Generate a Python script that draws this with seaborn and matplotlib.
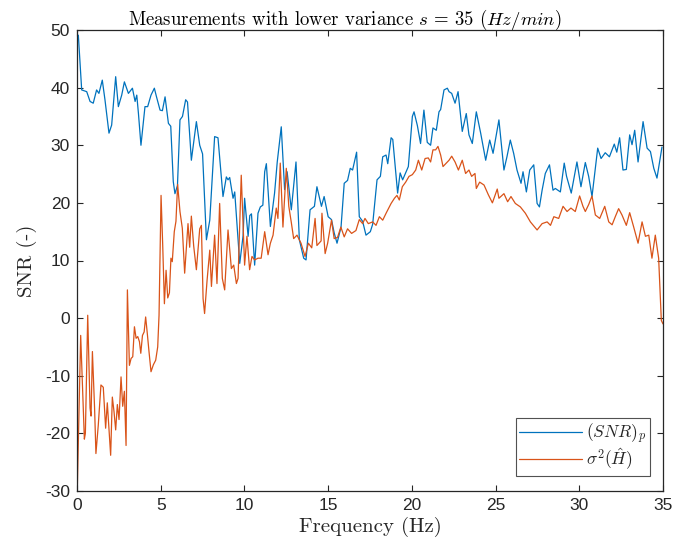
import numpy as np
import pandas as pd
import matplotlib
matplotlib.use("Agg")
import matplotlib.pyplot as plt
import seaborn as sns

# ---- data ----
snr_freq = [0.0, 0.08, 0.28, 0.58, 0.78, 0.97, 1.17, 1.31, 1.51, 1.67, 1.91, 2.07, 2.31, 2.47,
            2.67, 2.83, 3.07, 3.31, 3.47, 3.57, 3.67, 3.82, 4.06, 4.22, 4.42, 4.62, 4.74, 4.96,
            5.1, 5.26, 5.46, 5.6, 5.75, 5.85, 6.0, 6.15, 6.3, 6.49, 6.6, 6.83, 7.13, 7.33, 7.5,
            7.73, 7.93, 8.22, 8.42, 8.72, 8.92, 9.02, 9.12, 9.32, 9.42, 9.72, 9.92, 10.01, 10.22,
            10.32, 10.42, 10.61, 10.81, 10.95, 11.1, 11.21, 11.31, 11.55, 11.8, 11.96, 12.2, 12.4,
            12.55, 12.8, 13.08, 13.28, 13.54, 13.68, 13.92, 14.18, 14.33, 14.6, 14.76, 15.0, 15.2,
            15.36, 15.53, 15.77, 15.96, 16.16, 16.32, 16.46, 16.7, 16.86, 17.06, 17.26, 17.52,
            17.66, 17.92, 18.12, 18.26, 18.46, 18.56, 18.76, 18.86, 19.15, 19.3, 19.45, 19.79,
            20.03, 20.13, 20.33, 20.52, 20.72, 20.92, 21.12, 21.26, 21.46, 21.62, 21.72, 21.92,
            22.12, 22.22, 22.38, 22.58, 22.76, 23.01, 23.25, 23.41, 23.61, 23.85, 24.11, 24.41,
            24.65, 24.85, 25.2, 25.5, 25.68, 25.88, 26.08, 26.28, 26.52, 26.64, 26.84, 27.04,
            27.28, 27.48, 27.62, 27.78, 27.97, 28.22, 28.43, 28.57, 28.87, 29.1, 29.24, 29.52,
            29.86, 30.1, 30.36, 30.56, 30.76, 31.1, 31.3, 31.55, 31.8, 32.09, 32.24, 32.41, 32.61,
            32.81, 33.01, 33.15, 33.31, 33.51, 33.81, 34.05, 34.25, 34.45, 34.64, 34.94]
snr_vals = [49.0, 49.1, 39.6, 39.3, 37.6, 37.3, 39.6, 39.0, 41.3, 37.9, 32.1, 33.5, 41.9, 36.7,
            38.7, 41.0, 39.0, 39.9, 37.6, 38.7, 35.5, 30.0, 36.7, 36.7, 38.7, 39.9, 38.5, 36.1,
            36.0, 38.4, 33.8, 33.3, 23.7, 21.6, 23.0, 34.4, 35.0, 37.9, 37.5, 27.4, 34.1, 30.0, 28.5,
            13.6, 17.0, 31.5, 31.3, 21.1, 24.5, 24.0, 24.4, 20.8, 21.9, 9.5, 14.3, 20.8, 14.2,
            17.8, 18.1, 9.2, 18.2, 19.3, 19.6, 25.4, 26.8, 15.9, 21.7, 27.1, 33.2, 22.3,
            25.4, 18.8, 27.1, 13.6, 10.4, 10.1, 18.8, 19.4, 22.8, 19.4, 21.1, 17.6, 17.1,
            14.8, 13.0, 15.8, 23.4, 23.9, 26.0, 25.7, 28.8, 17.6, 16.8, 14.4, 15.0,
            16.3, 24.0, 24.6, 28.0, 28.3, 26.8, 31.3, 31.0, 21.7, 25.2, 24.0, 26.3,
            35.0, 35.8, 33.4, 30.3, 36.1, 30.5, 30.0, 33.0, 32.6, 35.8, 36.2, 39.6,
            39.9, 39.3, 39.0, 37.3, 39.3, 32.4, 35.5, 31.8, 30.3, 35.8, 32.1, 27.4,
            30.9, 28.6, 34.4, 25.7, 28.0, 30.9, 28.6, 25.7, 23.4, 25.4, 21.9, 25.7,
            26.6, 19.9, 19.3, 22.2, 25.1, 26.6, 22.2, 22.5, 21.9, 26.9, 24.6, 21.7,
            27.1, 22.8, 27.0, 24.6, 21.1, 29.5, 27.7, 28.7, 28.0, 30.2, 28.8, 31.3, 25.7,
            25.8, 31.8, 30.1, 32.6, 27.1, 34.1, 29.5, 28.9, 26.0, 24.3, 29.7]

var_freq = [0.0, 0.22, 0.44, 0.5, 0.64, 0.78, 0.84, 0.92, 1.05, 1.13, 1.27, 1.43, 1.57, 1.71, 1.81,
            2.01, 2.11, 2.21, 2.31, 2.41, 2.51, 2.63, 2.73, 2.83, 2.93, 3.01, 3.13, 3.23, 3.33,
            3.43, 3.53, 3.63, 3.73, 3.81, 3.91, 4.01, 4.1, 4.2, 4.3, 4.42, 4.56, 4.7, 4.82, 4.9,
            5.02, 5.12, 5.22, 5.32, 5.42, 5.52, 5.61, 5.69, 5.81, 5.91, 6.01, 6.15, 6.29, 6.43,
            6.63, 6.73, 6.83, 6.97, 7.13, 7.33, 7.43, 7.53, 7.62, 7.77, 7.93, 8.03, 8.22, 8.36,
            8.52, 8.68, 8.82, 9.02, 9.22, 9.36, 9.52, 9.62, 9.81, 10.01, 10.15, 10.31, 10.45,
            10.61, 10.81, 11.0, 11.21, 11.41, 11.55, 11.71, 11.9, 12.0, 12.14, 12.3, 12.5, 12.65,
            12.8, 12.94, 13.14, 13.38, 13.62, 13.82, 14.02, 14.22, 14.33, 14.58, 14.63, 14.82,
            14.97, 15.2, 15.36, 15.56, 15.76, 15.96, 16.16, 16.4, 16.66, 16.86, 17.06, 17.2,
            17.4, 17.66, 17.86, 18.06, 18.26, 18.46, 18.76, 18.96, 19.11, 19.25, 19.43, 19.63,
            19.83, 20.03, 20.23, 20.39, 20.59, 20.79, 20.98, 21.12, 21.26, 21.42, 21.56, 21.72,
            21.86, 22.06, 22.22, 22.38, 22.58, 22.78, 23.01, 23.21, 23.41, 23.57, 23.77, 23.85,
            24.05, 24.31, 24.57, 24.81, 25.1, 25.2, 25.5, 25.72, 25.92, 26.18, 26.48, 26.78,
            27.08, 27.48, 27.78, 28.08, 28.28, 28.48, 28.77, 29.03, 29.27, 29.5, 29.76, 30.02,
            30.22, 30.36, 30.56, 30.76, 30.96, 31.22, 31.52, 31.76, 31.96, 32.15, 32.35, 32.55,
            32.81, 33.01, 33.25, 33.51, 33.75, 33.95, 34.15, 34.34, 34.54, 34.74, 34.9, 35.0]
var_vals = [-32.0, -3.0, -21.0, -20.0, 0.5, -15.6, -17.0, -5.8, -15.6, -23.5, -18.6, -11.6, -12.0,
            -19.1, -14.7, -23.8, -13.7, -16.2, -19.4, -15.0, -17.6, -10.2, -15.3, -12.7, -22.1,
            4.9, -8.2, -7.0, -6.7, -1.5, -3.5, -3.2, -4.1, -6.1, -3.0, -2.4, 0.2, -2.7, -5.8,
            -9.3, -8.1, -7.3, -5.0, 0.5, 21.3, 12.6, 2.5, 8.3, 3.5, 4.4, 10.4, 9.8, 15.0, 16.8,
            23.2, 18.5, 15.6, 7.8, 16.4, 12.3, 17.7, 12.5, 8.4, 15.5, 16.1, 3.4, 0.8, 6.6,
            11.8, 5.5, 14.4, 6.0, 19.9, 6.9, 4.9, 15.3, 8.6, 9.2, 6.0, 6.9, 24.8, 9.2, 14.2,
            8.4, 10.7, 10.1, 10.4, 10.4, 15.0, 11.0, 13.0, 14.4, 19.1, 17.3, 26.9, 15.8, 26.0,
            19.4, 16.6, 13.8, 14.4, 13.0, 10.7, 13.0, 12.2, 17.3, 12.6, 13.4, 18.2, 11.2, 13.0,
            17.0, 13.8, 14.0, 15.8, 14.1, 15.5, 14.7, 15.2, 17.1, 16.4, 17.3, 16.4, 16.7, 16.1,
            17.6, 17.0, 18.2, 19.9, 20.8, 21.3, 20.5, 22.8, 23.6, 24.6, 24.9, 25.7, 27.4, 25.7,
            27.7, 27.8, 27.1, 29.2, 29.2, 29.8, 28.3, 26.3, 26.9, 27.4, 28.1, 27.1, 25.7, 27.4,
            25.1, 25.7, 24.6, 25.1, 22.5, 23.6, 23.1, 21.4, 20.0, 22.4, 20.8, 21.6, 20.2, 21.1,
            19.9, 19.3, 18.2, 16.7, 15.3, 16.4, 16.7, 16.1, 17.6, 17.3, 19.4, 18.5, 19.1, 18.5,
            21.2, 19.4, 18.5, 19.7, 21.2, 17.9, 17.3, 19.4, 16.7, 16.2, 17.6, 19.0, 17.9, 16.1,
            18.3, 15.8, 13.0, 16.7, 14.2, 14.4, 10.4, 14.4, 10.4, -0.4, -1.0]

series_labels = [r"$(SNR)_p$", r"$\sigma^2(\hat{H})$"]
x_ticks = [0, 5, 10, 15, 20, 25, 30, 35]
y_ticks = [-30, -20, -10, 0, 10, 20, 30, 40, 50]
title_text = r"Measurements with lower variance $s\,=\,35$ $(Hz/min)$"
x_label = "Frequency (Hz)"
y_label = "SNR (-)"

# ---- styling ----
sns.set_theme(style="white")
plt.rcParams["font.family"] = ["Liberation Sans", "DejaVu Sans"]
plt.rcParams["mathtext.fontset"] = "cm"
plt.rcParams["axes.unicode_minus"] = False
axc = "#262626"

fig = plt.figure(figsize=(6.73, 5.51), dpi=100)
ax = fig.add_axes([77 / 673, 1 - 491 / 551, (663 - 77) / 673, (491 - 30) / 551])

df1 = pd.DataFrame({"f": snr_freq, "v": snr_vals})
df2 = pd.DataFrame({"f": var_freq, "v": var_vals})
sns.lineplot(data=df1, x="f", y="v", ax=ax, color="#0072BD", linewidth=0.9,
             sort=False, label=series_labels[0])
sns.lineplot(data=df2, x="f", y="v", ax=ax, color="#D95319", linewidth=0.9,
             sort=False, label=series_labels[1])

ax.set_xlim(0, 35)
ax.set_ylim(-30, 50)
ax.set_xticks(x_ticks)
ax.set_yticks(y_ticks)
ax.tick_params(direction="in", length=4.5, width=0.8, colors=axc, labelsize=12.5,
               top=True, right=True, bottom=True, left=True, pad=5)
for s in ax.spines.values():
    s.set_visible(True)
    s.set_color(axc)
    s.set_linewidth(0.9)

ax.set_xlabel(x_label, family="cmr10", fontsize=15, color=axc, labelpad=3)
ax.set_ylabel(y_label, family="cmr10", fontsize=15, color=axc, labelpad=6)
ax.set_title(title_text, family="cmr10", fontsize=13.5, color="black", pad=4,
             x=(345 - 77) / 586)

leg = ax.legend(loc="lower right", bbox_to_anchor=(0.977, 0.033), fontsize=12.5,
                frameon=True, fancybox=False, handlelength=3.6, handletextpad=0.25,
                borderpad=0.2, labelspacing=0.05, borderaxespad=0)
leg.get_frame().set_edgecolor(axc)
leg.get_frame().set_linewidth(0.8)

fig.savefig("out.png", dpi=100)
